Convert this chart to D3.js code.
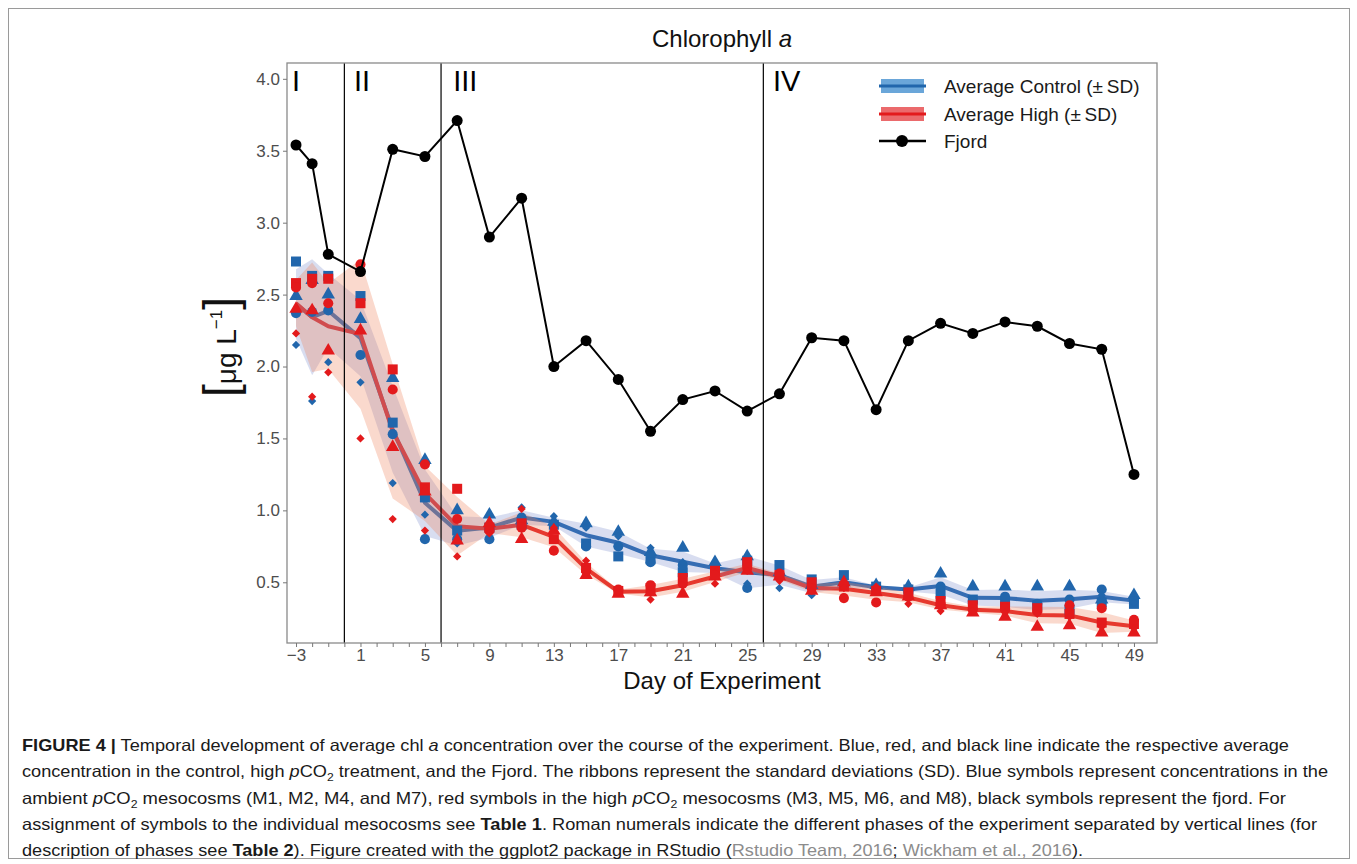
<!DOCTYPE html>
<html>
<head>
<meta charset="utf-8">
<script src="https://cdn.jsdelivr.net/npm/d3@7"></script>
<style>
  html, body { margin: 0; padding: 0; background: #fff; }
  svg { display: block; }
</style>
</head>
<body>
<svg id="chart" width="1357" height="864"></svg>
<script>
// ---------------- DATA ----------------
const days = [-3,-2,-1,1,3,5,7,9,11,13,15,17,19,21,23,25,27,29,31,33,35,37,39,41,43,45,47,49];
const fjord = [3.54,3.41,2.78,2.66,3.51,3.46,3.71,2.90,3.17,2.00,2.18,1.91,1.55,1.77,1.83,1.69,1.81,2.20,2.18,1.70,2.18,2.30,2.23,2.31,2.28,2.16,2.12,1.25];

// Control (ambient pCO2) mesocosms, one array per symbol
const controlSquare   = [2.73,2.63,2.63,2.49,1.61,1.09,0.86,0.88,0.90,0.90,0.77,0.68,0.66,0.57,0.59,0.65,0.62,0.52,0.55,0.47,0.45,0.42,0.38,0.36,0.34,0.31,0.36,0.35];
const controlTriangle = [2.49,2.60,2.50,2.33,1.92,1.35,1.00,0.97,0.93,0.92,0.91,0.85,0.71,0.74,0.64,0.68,0.57,0.48,0.50,0.48,0.47,0.56,0.47,0.47,0.47,0.47,0.38,0.41];
const controlCircle   = [2.37,2.38,2.39,2.08,1.53,0.80,0.80,0.80,0.95,0.90,0.75,0.75,0.64,0.62,0.60,0.46,0.55,0.47,0.48,0.46,0.44,0.47,0.37,0.40,0.35,0.38,0.45,0.37];
const controlDiamond  = [2.15,1.76,2.03,1.89,1.19,0.97,0.77,0.87,1.02,0.96,0.88,0.82,0.74,0.64,0.56,0.49,0.46,0.41,0.47,0.45,0.44,0.45,0.35,0.33,0.33,0.37,0.41,0.36];

// High pCO2 mesocosms
const highSquare   = [2.58,2.61,2.61,2.44,1.98,1.16,1.15,0.88,0.91,0.80,0.60,0.44,0.46,0.53,0.58,0.64,0.55,0.50,0.47,0.44,0.43,0.37,0.34,0.33,0.32,0.28,0.22,0.21];
const highTriangle = [2.40,2.39,2.11,2.25,1.44,1.13,0.79,0.91,0.80,0.86,0.55,0.42,0.43,0.42,0.54,0.58,0.54,0.44,0.50,0.43,0.40,0.34,0.29,0.26,0.19,0.20,0.15,0.15];
const highCircle   = [2.55,2.58,2.44,2.71,1.84,1.32,0.94,0.86,0.88,0.72,0.58,0.45,0.48,0.49,0.55,0.60,0.56,0.46,0.39,0.36,0.40,0.35,0.31,0.32,0.30,0.34,0.32,0.24];
const highDiamond  = [2.23,1.79,1.96,1.50,0.94,0.86,0.68,0.84,1.01,0.88,0.65,0.43,0.38,0.48,0.49,0.58,0.51,0.44,0.46,0.47,0.35,0.30,0.30,0.29,0.28,0.26,0.19,0.18];

const phaseLines = [0, 6, 26];
const phaseLabels = ["I", "II", "III", "IV"];
const phaseLabelDays = [-3, 0.6, 6.75, 26.6];
const yTicks = [0.5,1.0,1.5,2.0,2.5,3.0,3.5,4.0];
const legendLabels = ["Average Control (\u00B1\u2009SD)", "Average High (\u00B1\u2009SD)", "Fjord"];

// ---------------- STYLE ----------------
const blue = "#2166ac", red = "#e31a1c";
const svg = d3.select("#chart");
const L = 287, R = 1157, T = 63, B = 643;
const x = d3.scaleLinear().domain([-3.56, 50.43]).range([L, R]);
const y = d3.scaleLinear().domain([0.078, 4.11]).range([B, T]);

// outer frame
svg.append("rect").attr("x", 8.5).attr("y", 8.5).attr("width", 1341).attr("height", 850)
  .attr("fill", "none").attr("stroke", "#9a9a9a").attr("stroke-width", 1);

// stats
function stats(groups) {
  return days.map((d, i) => {
    const vals = groups.map(g => g[i]);
    const m = d3.mean(vals), s = d3.deviation(vals);
    return {d, m, lo: m - s, hi: m + s};
  });
}
const ctrl = stats([controlSquare, controlTriangle, controlCircle, controlDiamond]);
const high = stats([highSquare, highTriangle, highCircle, highDiamond]);

const plot = svg.append("g");
plot.append("defs").append("clipPath").attr("id", "clip")
  .append("rect").attr("x", L).attr("y", T).attr("width", R - L).attr("height", B - T);
const g = plot.append("g").attr("clip-path", "url(#clip)");

const line = d3.line().x(p => x(p.d)).y(p => y(p.m));
const area = d3.area().x(p => x(p.d)).y0(p => y(p.lo)).y1(p => y(p.hi));

// lines under ribbons
g.append("path").datum(ctrl).attr("d", line).attr("fill", "none").attr("stroke", blue).attr("stroke-width", 4).attr("stroke-linejoin", "round");
g.append("path").datum(high).attr("d", line).attr("fill", "none").attr("stroke", red).attr("stroke-width", 4).attr("stroke-linejoin", "round");
g.append("path").datum(ctrl).attr("d", area).attr("fill", "rgb(110,130,200)").attr("fill-opacity", 0.27);
g.append("path").datum(high).attr("d", area).attr("fill", "rgb(240,130,90)").attr("fill-opacity", 0.3);

// phase lines
phaseLines.forEach(p => {
  g.append("line").attr("x1", x(p)).attr("x2", x(p)).attr("y1", T).attr("y2", B)
    .attr("stroke", "#000").attr("stroke-width", 1.2);
});
phaseLabels.forEach((lab, i) => {
  g.append("text").attr("x", x(phaseLabelDays[i])).attr("y", 91)
    .attr("text-anchor", i === 0 ? "middle" : "start")
    .attr("font-family", "Liberation Sans, Arial, sans-serif").attr("font-size", 29)
    .attr("fill", "#000").text(lab);
});

// points
const symSet = [
  {arr: controlSquare, type: d3.symbolSquare, size: 100, c: blue, rot: 0},
  {arr: controlTriangle, type: d3.symbolTriangle, size: 78, c: blue, rot: 0},
  {arr: controlCircle, type: d3.symbolCircle, size: 80, c: blue, rot: 0},
  {arr: controlDiamond, type: d3.symbolSquare, size: 34, c: blue, rot: 45},
  {arr: highSquare, type: d3.symbolSquare, size: 100, c: red, rot: 0},
  {arr: highTriangle, type: d3.symbolTriangle, size: 78, c: red, rot: 0},
  {arr: highCircle, type: d3.symbolCircle, size: 80, c: red, rot: 0},
  {arr: highDiamond, type: d3.symbolSquare, size: 34, c: red, rot: 45}
];
symSet.forEach(s => {
  g.append("g").selectAll("path").data(days.map((d, i) => ({d, v: s.arr[i]})))
    .join("path")
    .attr("transform", p => `translate(${x(p.d)},${y(p.v)}) rotate(${s.rot})`)
    .attr("d", d3.symbol().type(s.type).size(s.size))
    .attr("fill", s.c);
});

// fjord
const fj = days.map((d, i) => ({d, m: fjord[i]}));
g.append("path").datum(fj).attr("d", line).attr("fill", "none").attr("stroke", "#000").attr("stroke-width", 2);
g.append("g").selectAll("circle").data(fj).join("circle")
  .attr("cx", p => x(p.d)).attr("cy", p => y(p.m)).attr("r", 5.5).attr("fill", "#000");

// panel border
svg.append("rect").attr("x", L).attr("y", T).attr("width", R - L).attr("height", B - T)
  .attr("fill", "none").attr("stroke", "#8a8a8a").attr("stroke-width", 1.3);

// axes
const fontAxis = "Liberation Sans, Arial, sans-serif";
const yAxis = svg.append("g").attr("transform", `translate(${L},0)`)
  .call(d3.axisLeft(y).tickValues(yTicks).tickFormat(d3.format(".1f")).tickSize(4).tickPadding(3));
const xTickVals = d3.range(-3, 50);
const xAxis = svg.append("g").attr("transform", `translate(0,${B})`)
  .call(d3.axisBottom(x).tickValues(xTickVals).tickFormat(d => ((d + 3) % 4 === 0 ? d3.format("")(d) : "")).tickSize(4).tickPadding(2));
[yAxis, xAxis].forEach(a => {
  a.select(".domain").remove();
  a.selectAll(".tick line").attr("stroke", "#777").attr("stroke-width", 1);
  a.selectAll(".tick text").attr("fill", "#4d4d4d").attr("font-size", 17).attr("font-family", fontAxis);
});

// titles
svg.append("text").attr("x", 722).attr("y", 47).attr("text-anchor", "middle")
  .attr("font-family", fontAxis).attr("font-size", 24).attr("fill", "#111")
  .call(t => { t.append("tspan").text("Chlorophyll "); t.append("tspan").attr("font-style", "italic").text("a"); });
svg.append("text").attr("x", 722).attr("y", 689).attr("text-anchor", "middle")
  .attr("font-family", fontAxis).attr("font-size", 24).attr("fill", "#111").text("Day of Experiment");

// y label
const yl = svg.append("text").attr("transform", "translate(236,347) rotate(-90)").attr("text-anchor", "middle")
  .attr("font-family", fontAxis).attr("fill", "#111");
yl.append("tspan").attr("font-size", 46).attr("font-weight", 300).text("[");
yl.append("tspan").attr("font-size", 28).text("\u03BCg L");
yl.append("tspan").attr("font-size", 17).attr("dy", -14).text("\u22121");
yl.append("tspan").attr("font-size", 46).attr("dy", 14).text("]");

// legend
const lg = svg.append("g");
const lgY = [86, 114, 141];
[[blue, "rgba(80,150,210,0.85)"], [red, "rgba(232,80,82,0.85)"]].forEach((c, i) => {
  lg.append("rect").attr("x", 881).attr("y", lgY[i] - 7).attr("width", 43).attr("height", 14).attr("fill", c[1]);
  lg.append("line").attr("x1", 879).attr("x2", 926).attr("y1", lgY[i]).attr("y2", lgY[i]).attr("stroke", c[0]).attr("stroke-width", 3);
});
lg.append("line").attr("x1", 879).attr("x2", 926).attr("y1", lgY[2]).attr("y2", lgY[2]).attr("stroke", "#000").attr("stroke-width", 2.5);
lg.append("circle").attr("cx", 902).attr("cy", lgY[2]).attr("r", 6).attr("fill", "#000");
legendLabels.forEach((t, i) => {
  lg.append("text").attr("x", 944).attr("y", lgY[i] + 7).attr("font-family", fontAxis).attr("font-size", 19).attr("fill", "#1a1a1a").text(t);
});

// caption
const capFont = "'Liberation Sans Narrow', 'Liberation Sans', Arial, sans-serif";
const capLines = [
  {w: 1267, parts: [["FIGURE 4 |", "b"], [" Temporal development of average chl "], ["a", "i"], [" concentration over the course of the experiment. Blue, red, and black line indicate the respective average"]]},
  {w: 1306, parts: [["concentration in the control, high "], ["p", "i"], ["CO"], ["2", "sub"], [" treatment, and the Fjord. The ribbons represent the standard deviations (SD). Blue symbols represent concentrations in the"]]},
  {w: 1264, parts: [["ambient "], ["p", "i"], ["CO"], ["2", "sub"], [" mesocosms (M1, M2, M4, and M7), red symbols in the high "], ["p", "i"], ["CO"], ["2", "sub"], [" mesocosms (M3, M5, M6, and M8), black symbols represent the fjord. For"]]},
  {w: 1295, parts: [["assignment of symbols to the individual mesocosms see "], ["Table 1", "b"], [". Roman numerals indicate the different phases of the experiment separated by vertical lines (for"]]},
  {w: 1061, parts: [["description of phases see "], ["Table 2", "b"], ["). Figure created with the ggplot2 package in RStudio ("], ["Rstudio Team, 2016", "g"], ["; "], ["Wickham et al., 2016", "g"], [")."]]}
];
const capY = [751, 777, 804, 830, 856];
capLines.forEach((ln, i) => {
  const t = svg.append("text").attr("x", 22).attr("y", capY[i]).attr("font-family", capFont)
    .attr("font-size", 16.5).attr("fill", "#1a1a1a")
    .attr("textLength", ln.w).attr("lengthAdjust", "spacingAndGlyphs");
  let prevSub = false;
  ln.parts.forEach(p => {
    const s = t.append("tspan").text(p[0]);
    if (p[1] === "b") s.attr("font-weight", "bold");
    if (p[1] === "i") s.attr("font-style", "italic");
    if (p[1] === "g") s.attr("fill", "#8c8c8c");
    if (p[1] === "sub") { s.attr("font-size", 11).attr("dy", 4); }
    else if (prevSub) { s.attr("dy", -4); }
    prevSub = p[1] === "sub";
  });
});
</script>
</body>
</html>
